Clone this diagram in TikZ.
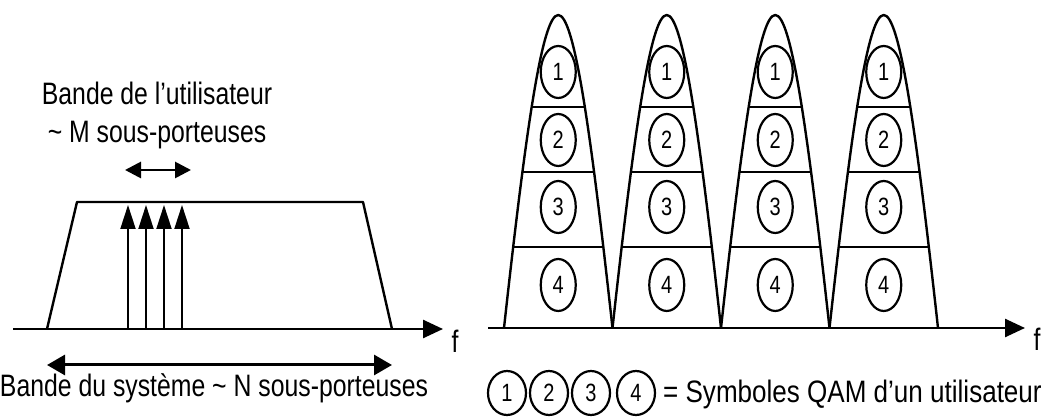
\documentclass[tikz,border=0pt]{standalone}
\usepackage{fontspec}
\usepackage{graphicx}
\setmainfont{Liberation Sans}[FakeStretch=0.8]
\usetikzlibrary{arrows.meta,shapes.geometric}

\begin{document}
\begin{tikzpicture}[x=1pt,y=-1pt,
  line/.style={line width=2.4pt,line join=round},
  axis/.style={line width=2.6pt,-{Triangle[length=20pt,width=18pt]}},
  carrier/.style={line width=2pt,-{Triangle[length=24pt,width=15pt]}},
  span/.style={line width=2.8pt,{Triangle[length=16pt,width=16pt]}-{Triangle[length=16pt,width=16pt]}},
  bigspan/.style={line width=3pt,{Triangle[length=18pt,width=20pt]}-{Triangle[length=18pt,width=20pt]}},
  label/.style={font=\fontsize{31}{38}\selectfont,inner sep=0pt},
  sym/.style={ellipse,draw,line width=2.2pt,minimum width=35pt,minimum height=52pt,
              inner sep=0pt,font=\fontsize{25}{25}\selectfont},
  legsym/.style={sym,minimum width=38pt,minimum height=44pt},
]
\useasboundingbox (0,0) rectangle (1045,419);

% ---------- left: system band with the user's sub-carriers ----------
\coordinate (l0) at (13,329);
\coordinate (lf) at (443,329);
\draw[axis] (l0) -- (lf);
\node[label,anchor=base] (flab) at (455,353) {f};

\coordinate (t1) at (47,329);
\coordinate (t2) at (77,202);
\coordinate (t3) at (363,202);
\coordinate (t4) at (392,329);
\draw[line] (t1) -- (t2) -- (t3) -- (t4);

\foreach \i/\x in {1/128,2/146,3/164,4/182}{
  \coordinate (c\i b) at (\x,329);
  \coordinate (c\i t) at (\x,205);
  \draw[carrier] (c\i b) -- (c\i t);
}

\coordinate (ua) at (125,170);
\coordinate (ub) at (191,170);
\draw[span] (ua) -- (ub);

\node[label,anchor=base] (user1) at (157,105) {Bande de l'utilisateur};
\node[label,anchor=base] (user2) at (157,143) {\textasciitilde{} M sous-porteuses};

\coordinate (sa) at (47,365);
\coordinate (sb) at (392,365);
\draw[bigspan] (sa) -- (sb);
\node[label,anchor=base] (sys) at (214,397) {Bande du système \textasciitilde{} N sous-porteuses};

% ---------- right: four sub-carriers, each carrying four QAM symbols ----------
\coordinate (r0) at (488,328);
\coordinate (rf) at (1025,328);

\foreach \k in {0,1,2,3}{
  \pgfmathsetmacro{\L}{504+108.5*\k}
  \pgfmathsetmacro{\C}{\L+54.25}
  \pgfmathsetmacro{\R}{\L+108.5}
  \begin{scope}
    \clip (\L,328) .. controls (\L+22,128) and (\C-16,15) .. (\C,15)
          .. controls (\C+16,15) and (\R-22,128) .. (\R,328) -- cycle;
    \foreach \y in {107,172,247}{
      \draw[line width=2.4pt] (\L,\y) -- (\R,\y);
    }
  \end{scope}
  \draw[line] (\L,328) .. controls (\L+22,128) and (\C-16,15) .. (\C,15)
        .. controls (\C+16,15) and (\R-22,128) .. (\R,328);
  \node[sym] (s\k a) at (\C,72)  {1};
  \node[sym] (s\k b) at (\C,140) {2};
  \node[sym] (s\k c) at (\C,207) {3};
  \node[sym] (s\k d) at (\C,285) {4};
}
\draw[axis] (r0) -- (rf);
\node[label,anchor=base] (flab2) at (1037,351) {f};

% ---------- legend ----------
\node[legsym] (g1) at (507,393) {1};
\node[legsym] (g2) at (549,393) {2};
\node[legsym] (g3) at (591,393) {3};
\node[legsym] (g4) at (636,393) {4};
\node[label,anchor=base west] (leg) at (663,403) {\scalebox{1.05}[1]{= Symboles QAM d'un utilisateur}};

\end{tikzpicture}
\end{document}
